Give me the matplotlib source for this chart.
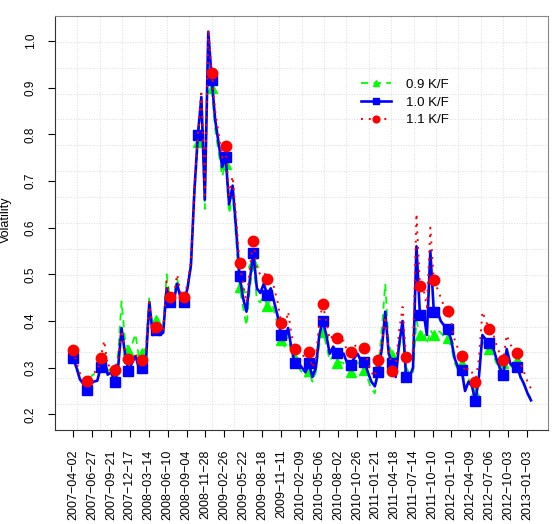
import matplotlib
matplotlib.use("Agg")
import matplotlib.pyplot as plt
import numpy as np

plt.rcParams['font.family'] = ['Liberation Sans', 'DejaVu Sans']

# trading-day index of each sampled point (every 11 trading days)
step = 11
tick_labels = ["2007-04-02", "2007-06-27", "2007-09-21", "2007-12-17", "2008-03-14",
               "2008-06-10", "2008-09-04", "2008-11-28", "2009-02-26", "2009-05-22",
               "2009-08-18", "2009-11-11", "2010-02-09", "2010-05-06", "2010-08-02",
               "2010-10-26", "2011-01-21", "2011-04-18", "2011-07-14", "2011-10-10",
               "2012-01-10", "2012-04-09", "2012-07-06", "2012-10-03", "2013-01-03"]
tick_every = 60

vol_10 = [0.321, 0.300, 0.275, 0.265, 0.252, 0.265, 0.270, 0.272, 0.301, 0.320,
          0.285, 0.290, 0.269, 0.300, 0.385, 0.330, 0.293, 0.310, 0.325, 0.300,
          0.299, 0.310, 0.440, 0.370, 0.381, 0.370, 0.375, 0.470, 0.441, 0.440,
          0.480, 0.450, 0.441, 0.470, 0.520, 0.680, 0.799, 0.880, 0.660, 1.020,
          0.916, 0.830, 0.780, 0.730, 0.752, 0.650, 0.690, 0.600, 0.496, 0.450,
          0.420, 0.490, 0.545, 0.470, 0.460, 0.480, 0.456, 0.470, 0.440, 0.410,
          0.370, 0.360, 0.385, 0.340, 0.309, 0.310, 0.300, 0.290, 0.309, 0.280,
          0.300, 0.370, 0.401, 0.370, 0.330, 0.345, 0.331, 0.330, 0.330, 0.310,
          0.306, 0.320, 0.330, 0.315, 0.313, 0.290, 0.270, 0.260, 0.291, 0.340,
          0.420, 0.330, 0.310, 0.280, 0.350, 0.400, 0.281, 0.280, 0.300, 0.560,
          0.413, 0.420, 0.370, 0.550, 0.420, 0.420, 0.400, 0.390, 0.382, 0.360,
          0.320, 0.300, 0.295, 0.250, 0.270, 0.260, 0.229, 0.280, 0.370, 0.360,
          0.353, 0.345, 0.320, 0.300, 0.284, 0.340, 0.310, 0.300, 0.302, 0.280,
          0.265, 0.245, 0.230]

vol_11 = [0.338, 0.312, 0.288, 0.282, 0.271, 0.285, 0.290, 0.292, 0.321, 0.358,
          0.302, 0.310, 0.296, 0.318, 0.380, 0.340, 0.318, 0.322, 0.332, 0.312,
          0.316, 0.322, 0.440, 0.375, 0.387, 0.380, 0.382, 0.485, 0.452, 0.450,
          0.500, 0.462, 0.451, 0.480, 0.530, 0.690, 0.800, 0.895, 0.670, 1.025,
          0.932, 0.850, 0.800, 0.750, 0.776, 0.670, 0.710, 0.625, 0.525, 0.480,
          0.440, 0.515, 0.572, 0.510, 0.500, 0.505, 0.491, 0.500, 0.470, 0.440,
          0.396, 0.385, 0.420, 0.370, 0.339, 0.335, 0.330, 0.318, 0.334, 0.300,
          0.320, 0.400, 0.436, 0.400, 0.360, 0.370, 0.363, 0.355, 0.358, 0.335,
          0.334, 0.345, 0.350, 0.340, 0.342, 0.310, 0.290, 0.280, 0.316, 0.350,
          0.410, 0.340, 0.293, 0.300, 0.380, 0.430, 0.323, 0.310, 0.340, 0.630,
          0.475, 0.470, 0.430, 0.600, 0.488, 0.470, 0.450, 0.430, 0.421, 0.400,
          0.360, 0.340, 0.325, 0.290, 0.300, 0.290, 0.269, 0.320, 0.420, 0.400,
          0.382, 0.375, 0.350, 0.330, 0.316, 0.370, 0.350, 0.340, 0.332, 0.310,
          0.290, 0.270, 0.255]

vol_09 = [0.325, 0.305, 0.282, 0.276, 0.265, 0.280, 0.286, 0.285, 0.310, 0.335,
          0.292, 0.300, 0.280, 0.330, 0.442, 0.360, 0.338, 0.350, 0.372, 0.322,
          0.331, 0.342, 0.452, 0.382, 0.402, 0.392, 0.386, 0.500, 0.445, 0.452,
          0.492, 0.456, 0.445, 0.468, 0.515, 0.670, 0.784, 0.870, 0.640, 1.010,
          0.900, 0.810, 0.760, 0.710, 0.736, 0.630, 0.670, 0.580, 0.472, 0.430,
          0.390, 0.470, 0.527, 0.445, 0.440, 0.455, 0.432, 0.448, 0.420, 0.390,
          0.359, 0.345, 0.370, 0.325, 0.320, 0.300, 0.290, 0.280, 0.293, 0.270,
          0.290, 0.350, 0.377, 0.350, 0.315, 0.325, 0.311, 0.312, 0.310, 0.295,
          0.291, 0.305, 0.312, 0.300, 0.295, 0.275, 0.255, 0.245, 0.303, 0.380,
          0.480, 0.350, 0.327, 0.290, 0.340, 0.380, 0.290, 0.275, 0.290, 0.400,
          0.370, 0.380, 0.350, 0.380, 0.370, 0.380, 0.375, 0.365, 0.363, 0.345,
          0.310, 0.295, 0.309, 0.255, 0.275, 0.265, 0.245, 0.285, 0.355, 0.345,
          0.341, 0.330, 0.310, 0.300, 0.309, 0.330, 0.305, 0.300, 0.316, 0.275,
          0.262, 0.245, 0.235]

x = np.arange(len(vol_10)) * step

fig = plt.figure(figsize=(5.52, 5.24), dpi=100)
ax = fig.add_axes([55 / 552, 94 / 524, 493 / 552, 414 / 524])

# R style grid(): equally spaced dotted lines over the plot region
for f in np.arange(1, 22) / 22:
    ax.plot([f, f], [0, 1], transform=ax.transAxes, color='#dcdcdc', lw=0.7, ls=':', zorder=0)
for f in np.arange(1, 16) / 16:
    ax.plot([0, 1], [f, f], transform=ax.transAxes, color='#dcdcdc', lw=0.7, ls=':', zorder=0)

mk = list(range(0, 129, 4))
mk_red = [i for i in mk if i != 36]
ax.plot(x, vol_09, color='#00ff00', ls=(0, (4, 3)), lw=1.3, marker='^', ms=7.5,
        markevery=mk, label='0.9 K/F', zorder=2)
ax.plot(x, vol_10, color='#0000ff', ls='-', lw=1.9, marker='s', ms=6.5,
        markevery=mk, label='1.0 K/F', zorder=3)
ax.plot(x, vol_11, color='#ff0000', ls=(0, (1, 3)), lw=1.4, marker='o', ms=7.5,
        markevery=mk_red, label='1.1 K/F', zorder=4)

ax.set_xlim(-57, 1506)
ax.set_ylim(0.1664, 1.0536)
ax.set_xticks(np.arange(len(tick_labels)) * tick_every)
ax.set_xticklabels([t.replace('-', '\u2212') for t in tick_labels], rotation=90, fontsize=9)
ax.set_yticks(np.arange(0.2, 1.01, 0.1))
ax.set_yticklabels(['%.1f' % v for v in np.arange(0.2, 1.01, 0.1)], rotation=90,
                   va='center', fontsize=8.5)
ax.tick_params(direction='out', length=5, width=0.8, pad=3)
ax.tick_params(axis='x', pad=9)
ax.tick_params(axis='y', pad=8)
for s in ax.spines.values():
    s.set_linewidth(0.8)
    s.set_color('#333333')
ax.spines['top'].set_color('#888888')
ax.spines['right'].set_color('#888888')

fig.text(6 / 552, 1 - 220 / 524, 'Volatility', rotation=90, ha='center', va='center', fontsize=9)

leg = ax.legend(loc='upper left', bbox_to_anchor=(0.607, 0.865), frameon=False,
                fontsize=9.5, handlelength=2.3, handletextpad=1.1, labelspacing=0.42,
                markerscale=0.65, borderpad=0)

fig.savefig('out.png', dpi=100)
